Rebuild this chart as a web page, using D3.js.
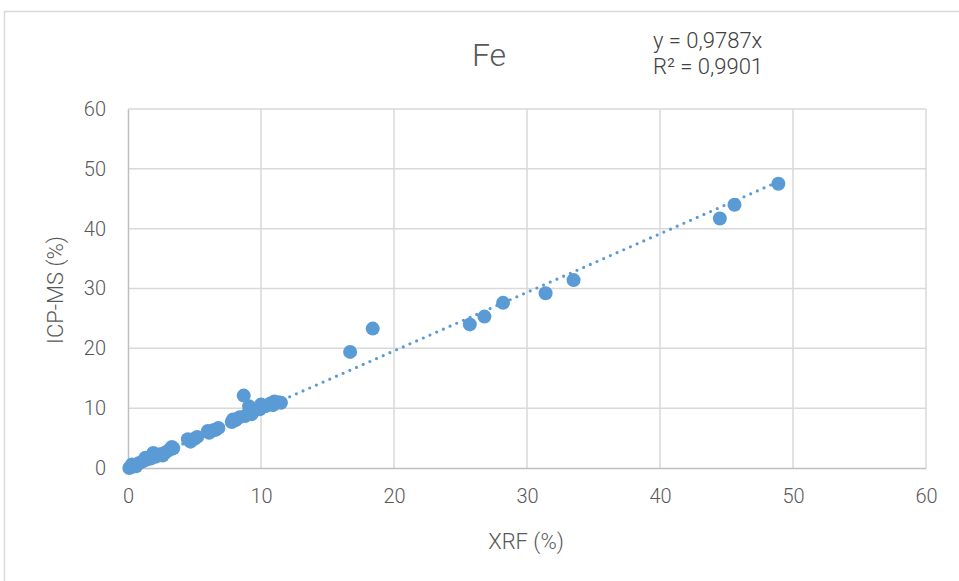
<!DOCTYPE html>
<html><head><meta charset="utf-8">
<script src="https://cdn.jsdelivr.net/npm/d3@7"></script>
<style>body{margin:0;background:#fff}svg{display:block}</style>
</head><body>
<script>
const title = "Fe";
const xLabel = "XRF (%)";
const yLabel = "ICP-MS (%)";
const xTicks = [0, 10, 20, 30, 40, 50, 60];
const yTicks = [0, 10, 20, 30, 40, 50, 60];
const xrf = [0.1, 0.3, 0.3, 0.5, 0.6, 0.8, 1.1, 1.3, 1.4, 1.7, 1.9, 2.1, 2.4, 2.6, 2.8, 3.1, 3.3, 3.4, 4.5, 4.7, 5.0, 5.2, 6.0, 6.1, 6.4, 6.6, 6.8, 7.8, 7.9, 8.1, 8.4, 8.7, 8.8, 9.1, 9.3, 9.9, 10.0, 10.3, 10.7, 10.9, 11.0, 11.3, 11.5, 16.7, 18.4, 25.7, 26.8, 28.2, 31.4, 33.5, 44.5, 45.6, 48.9];
const icp = [0.0, 0.2, 0.6, 0.5, 0.3, 0.8, 1.1, 1.7, 1.4, 1.6, 2.5, 1.9, 2.3, 2.1, 2.6, 3.0, 3.5, 3.3, 4.8, 4.4, 4.9, 5.2, 6.2, 5.9, 6.3, 6.4, 6.7, 7.7, 8.1, 8.0, 8.5, 12.1, 8.7, 10.3, 9.0, 9.8, 10.6, 10.3, 10.8, 10.5, 11.1, 11.0, 10.9, 19.4, 23.3, 24.0, 25.3, 27.6, 29.2, 31.4, 41.7, 44.0, 47.5];
const slope = 0.9787;
const eqLines = ["y = 0,9787x", "R² = 0,9901"];

const W = 959, H = 581;
const font = "Roboto, sans-serif";
const svg = d3.select("body").append("svg").attr("width", W).attr("height", H);

// frame
svg.append("path").attr("d", `M4.5,${H} L4.5,11.5 L${W},11.5`).attr("fill", "none").attr("stroke", "#d9d9d9").attr("stroke-width", 1.5);

const x = d3.scaleLinear().domain([0, 60]).range([128, 926]);
const y = d3.scaleLinear().domain([0, 60]).range([468, 109]);

// gridlines
const g = svg.append("g");
g.selectAll(".vg").data(xTicks.filter(d => d > 0)).join("line")
  .attr("x1", d => x(d)).attr("x2", d => x(d)).attr("y1", y(0)).attr("y2", y(60))
  .attr("stroke", "#d9d9d9").attr("stroke-width", 1.5);
g.selectAll(".hg").data(yTicks.filter(d => d > 0)).join("line")
  .attr("x1", x(0)).attr("x2", x(60)).attr("y1", d => y(d)).attr("y2", d => y(d))
  .attr("stroke", "#d9d9d9").attr("stroke-width", 1.5);

// axes
const xAxis = svg.append("g").attr("transform", `translate(0,${y(0)})`)
  .call(d3.axisBottom(x).tickValues(xTicks).tickSize(0).tickPadding(21));
const yAxis = svg.append("g").attr("transform", `translate(${x(0)},0)`)
  .call(d3.axisLeft(y).tickValues(yTicks).tickSize(0).tickPadding(22));
[xAxis, yAxis].forEach(a => {
  a.select(".domain").attr("stroke", "#bfbfbf").attr("stroke-width", 1.5);
  a.selectAll("text").attr("fill", "#595959").style("font-family", font)
    .style("font-weight", 300).style("font-size", "20px");
});
xAxis.selectAll(".tick text").attr("dy", "0.72em");

// points
const pts = xrf.map((v, i) => ({x: v, y: icp[i]}));
svg.append("g").selectAll("circle").data(pts).join("circle")
  .attr("cx", d => x(d.x)).attr("cy", d => y(d.y)).attr("r", 7)
  .attr("fill", "#5b9bd5");

// trendline
const x0 = d3.min(xrf), x1 = d3.max(xrf);
svg.append("line")
  .attr("x1", x(x0)).attr("y1", y(slope * x0)).attr("x2", x(x1)).attr("y2", y(slope * x1))
  .attr("stroke", "#5b9bd5").attr("stroke-width", 3.2).attr("stroke-linecap", "round")
  .attr("stroke-dasharray", "0 7.3");

// texts
function txt(px, py, t, size, anchor, fill, rot) {
  svg.append("text").attr("transform", `translate(${px},${py})` + (rot ? ` rotate(${rot})` : ""))
    .attr("text-anchor", anchor).attr("fill", fill)
    .style("font-family", font).style("font-weight", 300).style("font-size", size + "px").text(t);
}
txt(489, 66, title, 32, "middle", "#595959");
txt(653, 48, eqLines[0], 22, "start", "#404040");
txt(653, 74, eqLines[1], 22, "start", "#404040");
txt(526, 549, xLabel, 22, "middle", "#595959");
txt(63, 290, yLabel, 22, "middle", "#595959", -90);
</script>
</body></html>
